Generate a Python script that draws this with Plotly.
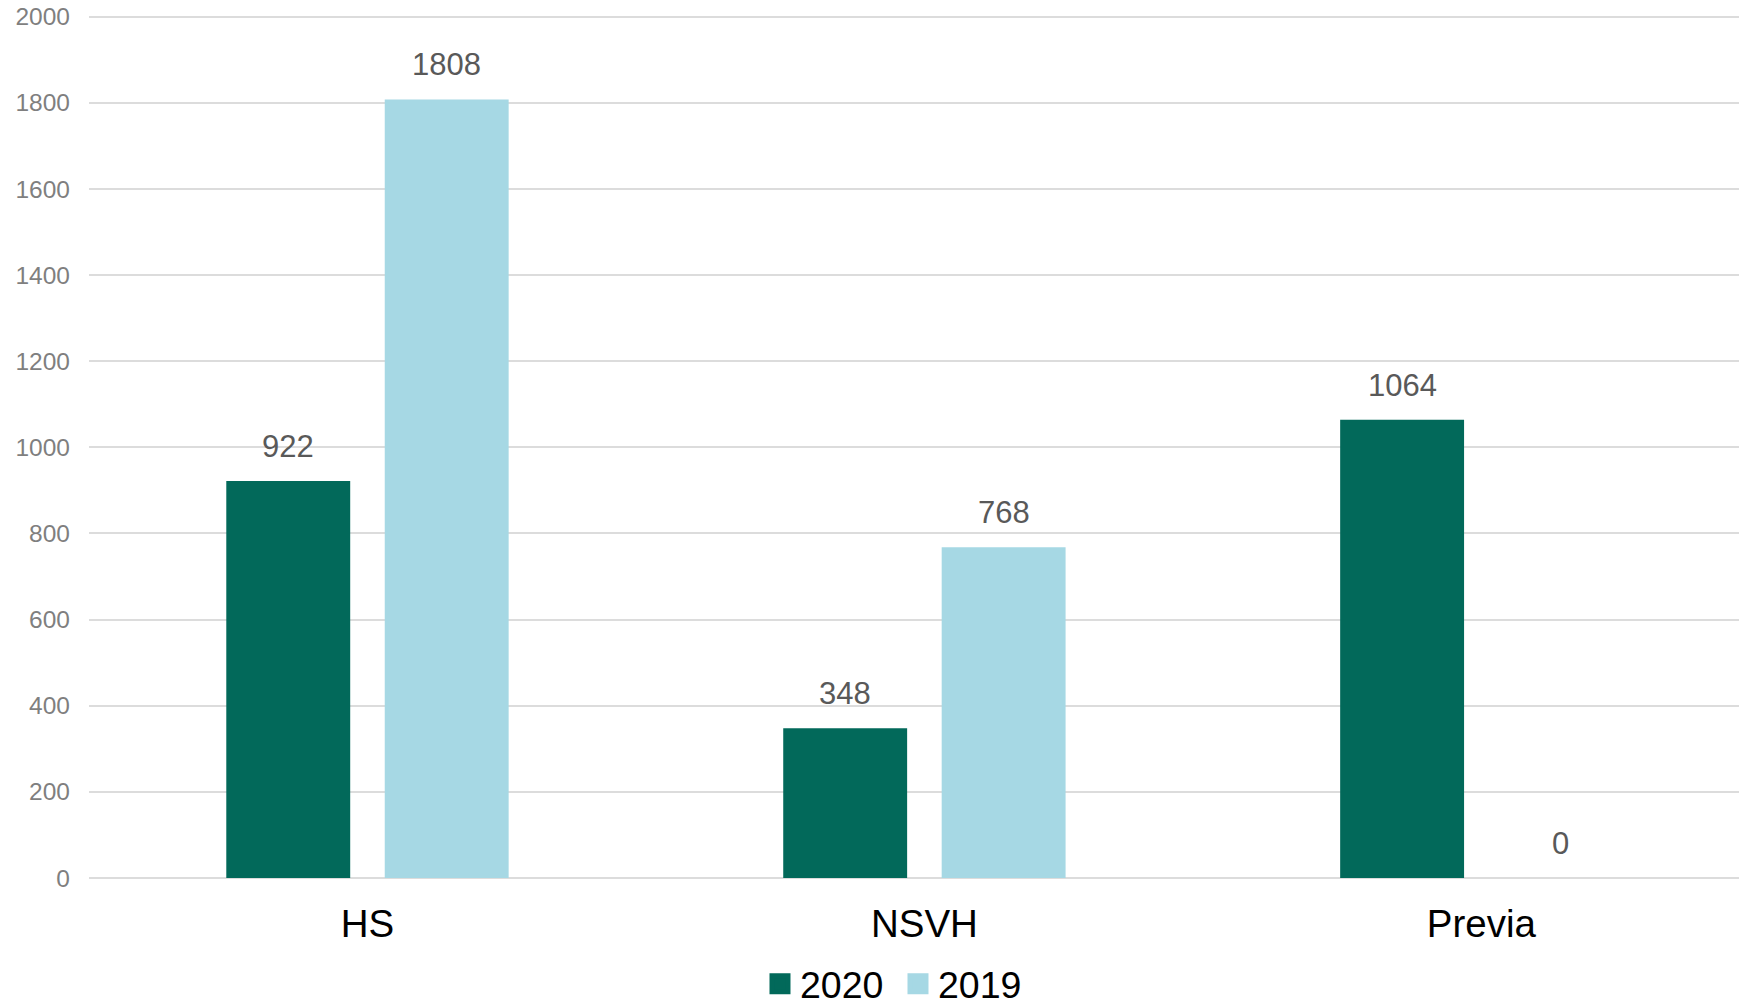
import plotly.graph_objects as go

categories = ["HS", "NSVH", "Previa"]
series_names = ["2020", "2019"]
values_2020 = [922, 348, 1064]
values_2019 = [1808, 768, 0]
y_ticks = [0, 200, 400, 600, 800, 1000, 1200, 1400, 1600, 1800, 2000]

colors = ["#02695A", "#A6D8E4"]

# page has an 8px body margin, so the figure is sized to fill the rest of the window
W, H = 1739, 999
ML, MR, MT, MB = 81, 0, 7, 129
XR = [-0.5, 2.477]
YR = [0, 2004]
BARGAP = 0.431
BARGROUPGAP = 0.218

fig = go.Figure()
for name, vals, col in zip(series_names, [values_2020, values_2019], colors):
    fig.add_trace(go.Bar(
        name=name, x=categories, y=vals,
        marker=dict(color=col, line=dict(width=0)),
        showlegend=False,
    ))

# legend entries with larger square swatches
for name, col in zip(series_names, colors):
    fig.add_trace(go.Scatter(
        name=name, x=[None], y=[None], mode="markers",
        marker=dict(symbol="square", size=16, color=col,
                    line=dict(color=col, width=5)),
        showlegend=True,
    ))

# data labels via annotations anchored at the bar tops
plot_w = W - ML - MR
cat_px = plot_w / (XR[1] - XR[0])
slot_px = cat_px * (1 - BARGAP) / 2
for i, vals in enumerate([values_2020, values_2019]):
    for c, v in zip(categories, vals):
        fig.add_annotation(
            x=c, y=v, xref="x", yref="y",
            text=str(v), showarrow=False,
            xshift=(i - 0.5) * slot_px, yshift=15,
            yanchor="bottom",
            font=dict(family="Liberation Sans, Arial", size=31, color="#595959"),
        )

fig.update_layout(
    width=W, height=H,
    margin=dict(l=ML, r=MR, t=MT, b=MB, pad=0, autoexpand=False),
    paper_bgcolor="white", plot_bgcolor="white",
    barmode="group", bargap=BARGAP, bargroupgap=BARGROUPGAP,
    font=dict(family="Liberation Sans, Arial"),
    showlegend=True,
    legend=dict(
        orientation="h", x=0.4047, xanchor="left",
        y=-0.0867, yanchor="top",
        font=dict(size=37.5, color="#000000"),
        traceorder="normal", entrywidth=93,
    ),
    xaxis=dict(
        range=XR, showgrid=False, showline=False, zeroline=False,
        tickfont=dict(size=38.5, color="#000000"),
        ticks="", ticklabelstandoff=19,
    ),
    yaxis=dict(
        range=YR, tickvals=y_ticks,
        showgrid=True, gridcolor="#DCDCDC", gridwidth=2,
        zeroline=True, zerolinecolor="#DCDCDC", zerolinewidth=2,
        showline=False, ticks="",
        tickfont=dict(size=24.5, color="#7F7F7F"),
        ticklabelstandoff=18, ticklabeloverflow="allow",
    ),
)

fig.write_html("out.html")
